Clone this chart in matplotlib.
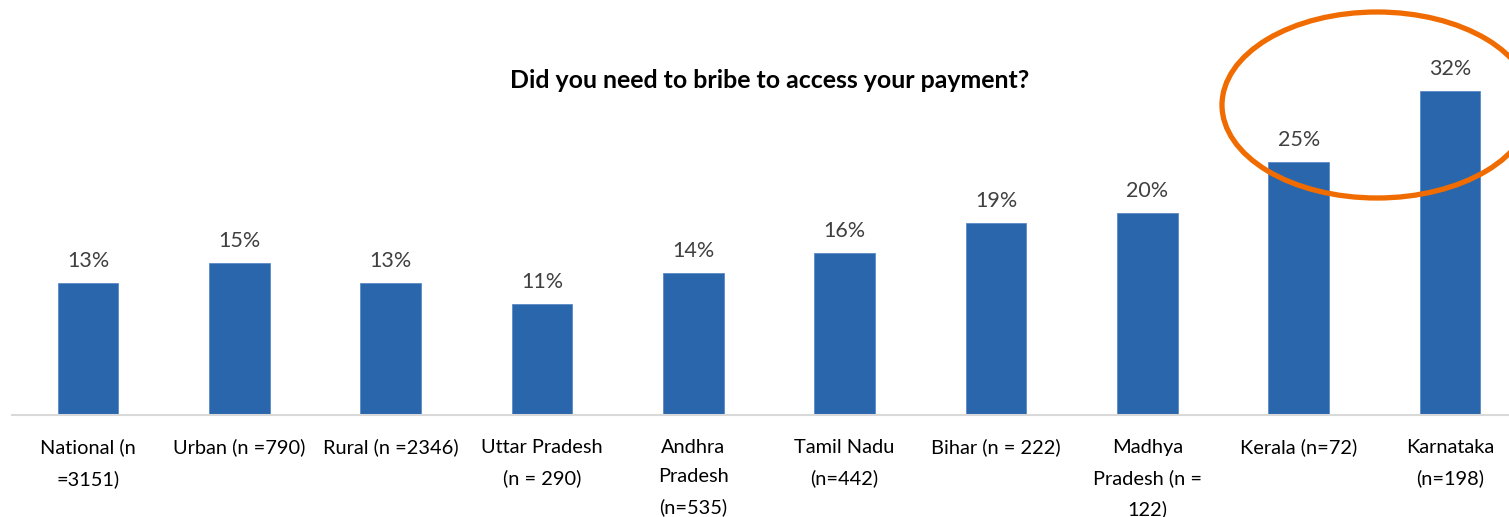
import matplotlib
matplotlib.use("Agg")
import matplotlib.pyplot as plt
from matplotlib.patches import Ellipse

plt.rcParams['font.family'] = ['Lato', 'DejaVu Sans']

categories = [
    "National (n\n=3151)",
    "Urban (n =790)",
    "Rural (n =2346)",
    "Uttar Pradesh\n(n = 290)",
    "Andhra\nPradesh\n(n=535)",
    "Tamil Nadu\n(n=442)",
    "Bihar (n = 222)",
    "Madhya\nPradesh (n =\n122)",
    "Kerala (n=72)",
    "Karnataka\n(n=198)",
]
values = [13, 15, 13, 11, 14, 16, 19, 20, 25, 32]
title = "Did you need to bribe to access your payment?"

W, H = 1509, 517
fig = plt.figure(figsize=(W / 100, H / 100), dpi=100)

# axes: baseline at 415 px from top, bar pitch ~151 px, right edge runs past the figure
left_px, right_px = 12.35, 1525.65
base_px = 415
px_per_unit = 10.125
ymax = 35
ax = fig.add_axes([left_px / W, (H - base_px) / H,
                   (right_px - left_px) / W, ymax * px_per_unit / H])

x = list(range(len(values)))
ax.bar(x, values, width=0.4, color="#2966AC", edgecolor="#5A8AC6", linewidth=0.6, zorder=2)
ax.set_xlim(-0.5, len(values) - 0.5)
ax.set_ylim(0, ymax)

for xi, v in zip(x, values):
    ax.annotate(f"{v}%", (xi, v), xytext=(0, 11.5), textcoords="offset points",
                ha="center", va="baseline", fontsize=15.5, color="#404040")

for s in ["top", "right", "left"]:
    ax.spines[s].set_visible(False)
ax.spines["bottom"].set_color("#D9D9D9")
ax.spines["bottom"].set_linewidth(1.5)
ax.set_yticks([])
ax.set_xticks(x)
ax.set_xticklabels(categories, fontsize=14.4, color="#000000", linespacing=1.9)
ax.tick_params(axis="x", length=0, pad=17)

fig.text(770 / W, (H - 80) / H, title, ha="center", va="center",
         fontsize=17.9, fontweight="bold", color="#000000")

# highlight ring around the two highest states
ring = Ellipse(((1377) / W, (H - 105) / H), 310 / W, 186 / H,
               transform=fig.transFigure, fill=False, edgecolor="#F06C00",
               linewidth=3.8, zorder=5)
fig.patches.append(ring)

fig.savefig("out.png", dpi=100)
